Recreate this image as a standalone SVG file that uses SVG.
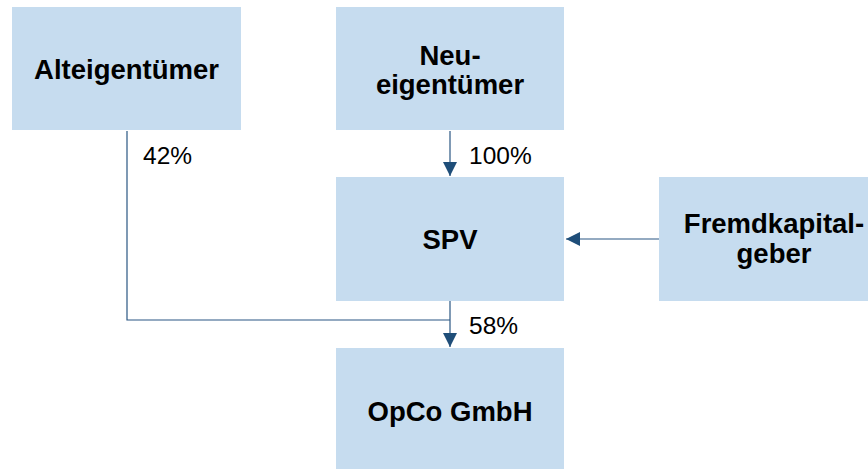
<svg xmlns="http://www.w3.org/2000/svg" width="868" height="469" viewBox="0 0 868 469">
<defs>
<style>
.box{fill:#c6dcef;}
.lbl{font-family:"Liberation Sans",Arial,sans-serif;font-weight:bold;font-size:27.5px;fill:#000;text-anchor:middle;}
.pct{font-family:"Liberation Sans",Arial,sans-serif;font-size:24.5px;fill:#000;}
.con{fill:none;stroke:#2a5783;stroke-width:1.2;}
</style>
<marker id="ah" markerUnits="userSpaceOnUse" markerWidth="14" markerHeight="14" refX="14" refY="7" orient="auto">
<path d="M0,0 L14,7 L0,14 Z" fill="#1f4e79"/>
</marker>
</defs>
<rect width="868" height="469" fill="#fff"/>
<g id="connectors">
<path class="con" d="M450,131 V176" marker-end="url(#ah)"/>
<path class="con" d="M659,239 H566" marker-end="url(#ah)"/>
<path class="con" d="M127,131 V320 H450"/>
<path class="con" d="M450,301 V347" marker-end="url(#ah)"/>
<text class="pct" x="143" y="164">42%</text>
<text class="pct" x="469" y="164">100%</text>
<text class="pct" x="469" y="334">58%</text>
</g>
<g id="alteigentuemer">
<rect class="box" x="12" y="7" width="229" height="123"/>
<text class="lbl" x="126.5" y="79">Alteigentümer</text>
</g>
<g id="neueigentuemer">
<rect class="box" x="336" y="7" width="228" height="123"/>
<text class="lbl" x="450" y="65">Neu-</text>
<text class="lbl" x="450" y="94">eigentümer</text>
</g>
<g id="spv">
<rect class="box" x="336" y="177" width="228" height="124"/>
<text class="lbl" x="450" y="249">SPV</text>
</g>
<g id="fremdkapitalgeber">
<rect class="box" x="659" y="177" width="209" height="124"/>
<text class="lbl" x="774" y="233">Fremdkapital-</text>
<text class="lbl" x="774" y="263">geber</text>
</g>
<g id="opco">
<rect class="box" x="336" y="348" width="228" height="121"/>
<text class="lbl" x="450" y="421">OpCo GmbH</text>
</g>
</svg>
